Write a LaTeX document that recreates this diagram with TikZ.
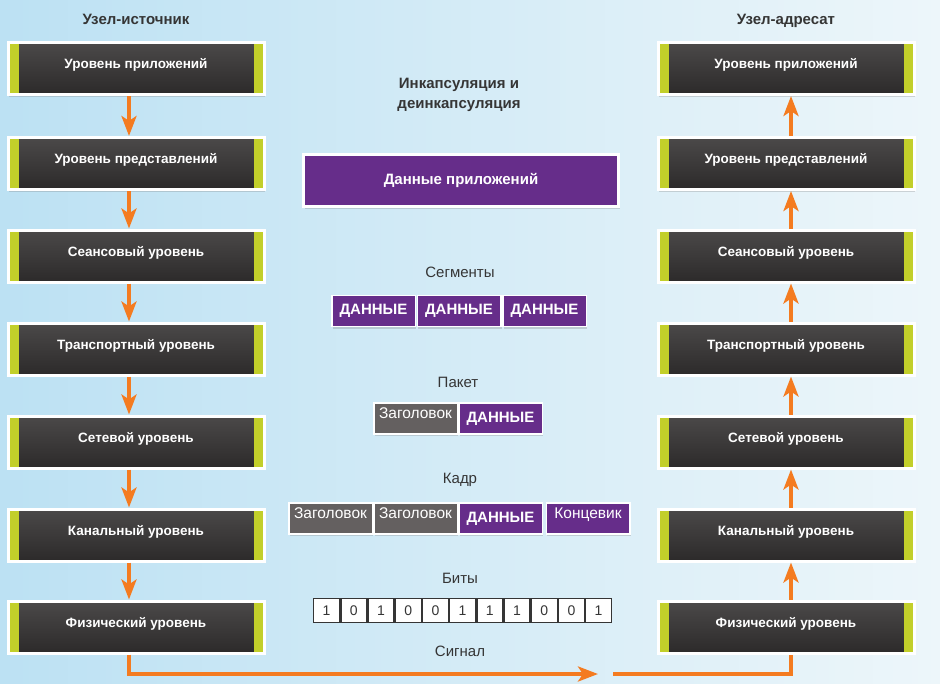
\documentclass[tikz,border=0pt]{standalone}
\usepackage{fontspec}
\setmainfont{Liberation Sans}
\usetikzlibrary{arrows.meta,shadows}

\definecolor{layerTop}{HTML}{4B4949}
\definecolor{layerBot}{HTML}{2C2A2A}
\definecolor{barGreen}{HTML}{C2CF2A}
\definecolor{dataPurple}{HTML}{662D8A}
\definecolor{hdrGray}{HTML}{646060}
\definecolor{arrOrange}{HTML}{F47B20}
\definecolor{txtGray}{HTML}{353535}
\definecolor{bgLeft}{HTML}{BCE1F3}
\definecolor{bgMid}{HTML}{D9EEF8}
\definecolor{bgRight}{HTML}{EDF6FA}

\begin{document}
\begin{tikzpicture}[
      x = 1pt, y = -1pt,
      every node/.style = {
        text = txtGray, font = \fontsize{15}{20}\selectfont},
      layer/.style = {
        draw = white, line width = 3pt, inner sep = 0pt,
        top color = layerTop, bottom color = layerBot,
        minimum width = 256pt, minimum height = 52pt,
        text = white, font = \fontsize{13.5}{16}\selectfont\bfseries,
        text height = 10pt, text depth = 10pt,
        drop shadow = {opacity = .3, shadow xshift = 1pt, shadow yshift = -2pt},
        path picture = {
          \fill[barGreen] (path picture bounding box.north west)
            rectangle ([xshift = 11pt]path picture bounding box.south west);
          \fill[barGreen] (path picture bounding box.north east)
            rectangle ([xshift = -10pt]path picture bounding box.south east);
        }},
      head/.style = {font = \fontsize{15}{20}\selectfont\bfseries},
      cell/.style = {
        draw = white, line width = 1.5pt, inner sep = 0pt,
        minimum width = 83.5pt, minimum height = 31pt, text = white,
        drop shadow = {opacity = .3, shadow xshift = 1pt, shadow yshift = -2pt}},
      data/.style = {cell, fill = dataPurple,
        font = \fontsize{15}{18}\selectfont\bfseries,
        text height = 11pt, text depth = 4pt},
      hdr/.style = {cell, fill = hdrGray,
        font = \fontsize{15.5}{18}\selectfont,
        text height = 11pt, text depth = 11pt},
      bit/.style = {
        draw = txtGray, line width = 1.3pt, fill = white, inner sep = 0pt,
        minimum width = 25.9pt, minimum height = 23.7pt,
        font = \fontsize{14}{16}\selectfont},
      arr/.style = {draw = arrOrange, line width = 4pt,
        -{Stealth[length = 20pt, width = 15pt, inset = 5pt]}},
      wire/.style = {draw = arrOrange, line width = 4pt}
      ]
    % background
    \fill[left color = bgLeft, middle color = bgMid, right color = bgRight]
      (0,0) rectangle (940,683);
    % source host
    \node[head, text height = 11pt, text depth = 3pt] (srcT) at (136,20) {Узел-источник};
    \node[layer] (S1) at (136,68.5) {Уровень приложений}; % 7
    \node[layer] (S2) at (136,163.5) {Уровень представлений}; % 6
    \node[layer] (S3) at (136,256) {Сеансовый уровень}; % 5
    \node[layer] (S4) at (136,349) {Транспортный уровень}; % 4
    \node[layer] (S5) at (136,442) {Сетевой уровень}; % 3
    \node[layer] (S6) at (136,535) {Канальный уровень}; % 2
    \node[layer] (S7) at (136,627) {Физический уровень}; % 1
    % destination host
    \node[head, text height = 11pt, text depth = 3pt] (dstT) at (786,20) {Узел-адресат};
    \node[layer] (D1) at (786,68.5) {Уровень приложений}; % 7
    \node[layer] (D2) at (786,163.5) {Уровень представлений}; % 6
    \node[layer] (D3) at (786,256) {Сеансовый уровень}; % 5
    \node[layer] (D4) at (786,349) {Транспортный уровень}; % 4
    \node[layer] (D5) at (786,442) {Сетевой уровень}; % 3
    \node[layer] (D6) at (786,535) {Канальный уровень}; % 2
    \node[layer] (D7) at (786,627) {Физический уровень}; % 1
    % encapsulation
    \node[head, align = center] (encT) at (459,95) {Инкапсуляция и\\деинкапсуляция};
    \node[draw = white, line width = 3pt, fill = dataPurple, minimum width = 315pt,
      minimum height = 52pt, text = white, font = \fontsize{15}{18}\selectfont\bfseries,
      drop shadow = {opacity = .3, shadow xshift = 1pt, shadow yshift = -2pt}]
      (app) at (461,180.5) {Данные приложений};
    \node (segT) at (460,272) {Сегменты};
    \node[data] (seg1) at (373.5,311) {ДАННЫЕ};
    \node[data] (seg2) at (459,311) {ДАННЫЕ};
    \node[data] (seg3) at (544.5,311) {ДАННЫЕ};
    \node (pktT) at (458,382) {Пакет};
    \node[hdr] (pkt1) at (415.5,418.5) {Заголовок};
    \node[data] (pkt2) at (500.5,418.5) {ДАННЫЕ};
    \node (frmT) at (460,480) {Кадр};
    \node[hdr] (frm1) at (330.5,518.5) {Заголовок};
    \node[hdr] (frm2) at (415.5,518.5) {Заголовок};
    \node[data] (frm3) at (500.5,518.5) {ДАННЫЕ};
    \node[hdr, fill = dataPurple] (frm4) at (588,518.5) {Концевик};
    \node (bitT) at (460,578) {Биты};
    \node[bit] (b1) at (326.6,610.5) {1};
    \node[bit] (b2) at (353.8,610.5) {0};
    \node[bit] (b3) at (381,610.5) {1};
    \node[bit] (b4) at (408.2,610.5) {0};
    \node[bit] (b5) at (435.4,610.5) {0};
    \node[bit] (b6) at (462.6,610.5) {1};
    \node[bit] (b7) at (489.8,610.5) {1};
    \node[bit] (b8) at (517,610.5) {1};
    \node[bit] (b9) at (544.2,610.5) {0};
    \node[bit] (b10) at (571.4,610.5) {0};
    \node[bit] (b11) at (598.6,610.5) {1};
    \node (sigT) at (460,651) {Сигнал};
    % down the source stack
    \draw[arr] ([xshift = -7pt]S1.south) -- ([xshift = -7pt]S2.north);
    \draw[arr] ([xshift = -7pt]S2.south) -- ([xshift = -7pt]S3.north);
    \draw[arr] ([xshift = -7pt]S3.south) -- ([xshift = -7pt]S4.north);
    \draw[arr] ([xshift = -7pt]S4.south) -- ([xshift = -7pt]S5.north);
    \draw[arr] ([xshift = -7pt]S5.south) -- ([xshift = -7pt]S6.north);
    \draw[arr] ([xshift = -7pt]S6.south) -- ([xshift = -7pt]S7.north);
    % up the destination stack
    \draw[arr] ([xshift = 5pt]D7.north) -- ([xshift = 5pt]D6.south);
    \draw[arr] ([xshift = 5pt]D6.north) -- ([xshift = 5pt]D5.south);
    \draw[arr] ([xshift = 5pt]D5.north) -- ([xshift = 5pt]D4.south);
    \draw[arr] ([xshift = 5pt]D4.north) -- ([xshift = 5pt]D3.south);
    \draw[arr] ([xshift = 5pt]D3.north) -- ([xshift = 5pt]D2.south);
    \draw[arr] ([xshift = 5pt]D2.north) -- ([xshift = 5pt]D1.south);
    % signal
    \coordinate (sigEnd) at (598,674);
    \coordinate (sigStart) at (613,674);
    \draw[arr] ([xshift = -7pt]S7.south) |- (sigEnd);
    \draw[wire] (sigStart) -| ([xshift = 5pt]D7.south);
  \end{tikzpicture}
\end{document}
